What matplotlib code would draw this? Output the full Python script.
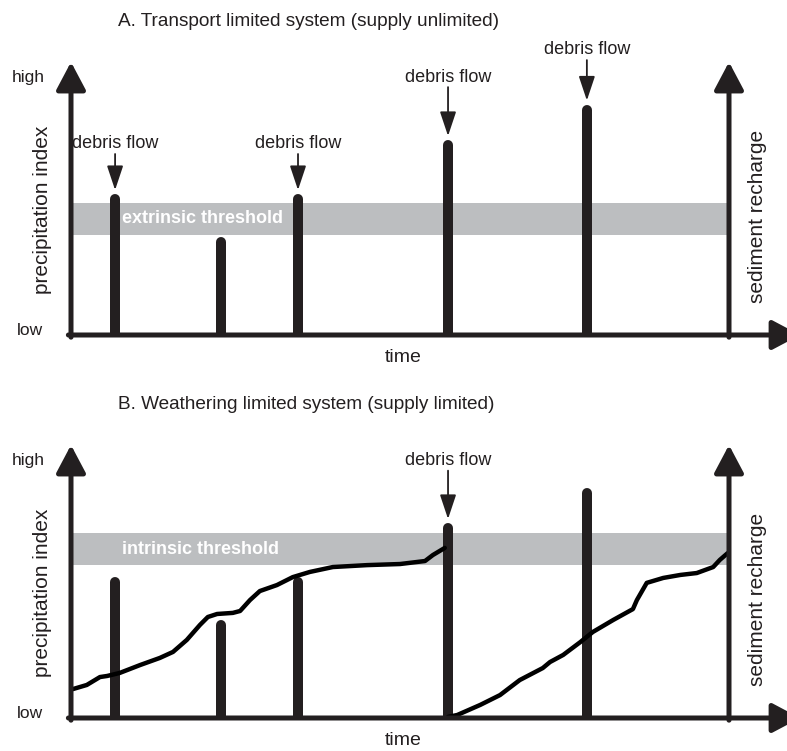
import matplotlib
matplotlib.use("Agg")
import matplotlib.pyplot as plt

plt.rcParams['font.family'] = ['Liberation Sans', 'DejaVu Sans']

INK = '#231f20'
GRAY = '#bcbec0'

# precipitation events (time, precipitation index), same in both panels
event_t = [6.7, 22.8, 34.5, 57.3, 78.4]
event_p = [49.8, 34.0, 49.8, 69.6, 82.6]

# thresholds (low, high)
extrinsic = (36.6, 48.4)
intrinsic = (56.0, 67.8)

# events that trigger debris flows
flows_a = [0, 2, 3, 4]
flows_b = [3]

# sediment recharge curve for panel B (two segments, reset after debris flow)
rech1_t = [0.3, 2.4, 4.4, 5.5, 7.4, 10.5, 13.5, 15.5, 17.6, 19.6, 20.8, 22.2,
           24.6, 25.7, 27.2, 28.7, 31.3, 33.7, 36.3, 39.8, 45.0, 50.0, 53.8,
           55.0, 56.8]
rech1_v = [10.6, 12.1, 15.0, 15.4, 16.5, 19.4, 22.0, 24.2, 28.6, 34.1, 37.0,
           38.1, 38.5, 39.2, 43.2, 46.5, 48.7, 51.6, 53.5, 55.3, 56.0, 56.4,
           57.5, 59.7, 62.3]
rech2_t = [57.3, 58.7, 62.2, 65.2, 68.2, 71.7, 72.8, 74.8, 77.4, 79.3, 82.4,
           85.4, 86.0, 87.5, 90.0, 92.6, 95.1, 97.6, 98.6, 99.8]
rech2_v = [0.4, 1.1, 4.8, 8.4, 13.9, 18.3, 20.5, 23.1, 27.8, 31.5, 35.9,
           39.9, 43.2, 49.5, 51.3, 52.4, 53.1, 55.3, 57.9, 60.4]

W, H = 787, 751
fig = plt.figure(figsize=(W / 100, H / 100), dpi=100)


def panel(bottom_px, title, band, band_label, flows, label_ys):
    ax = fig.add_axes([71 / W, 1 - bottom_px / H, 658 / W, 273 / H])
    ax.set_xlim(0, 100)
    ax.set_ylim(0, 100)
    ax.axis('off')

    ax.axhspan(band[0], band[1], xmin=0, xmax=1, color=GRAY, lw=0, zorder=1)
    ax.text(7.8, (band[0] + band[1]) / 2, band_label, color='white',
            fontsize=13, fontweight='bold', va='center', ha='left', zorder=2)

    ax.vlines(event_t, 0, event_p, color=INK, lw=7.2, capstyle='round', zorder=3)

    head = dict(arrowstyle='-|>,head_length=0.85,head_width=0.45',
                lw=3.6, color=INK, mutation_scale=20, shrinkA=0, shrinkB=0)
    ax.annotate('', xy=(0, 100), xytext=(0, -0.8), arrowprops=head,
                annotation_clip=False, zorder=4)
    ax.annotate('', xy=(100, 100), xytext=(100, -0.8), arrowprops=head,
                annotation_clip=False, zorder=4)
    ax.annotate('', xy=(110.8, 0), xytext=(-0.4, 0), arrowprops=head,
                annotation_clip=False, zorder=4)

    small = dict(arrowstyle='-|>,head_length=0.75,head_width=0.25',
                 lw=1.3, color=INK, mutation_scale=20, shrinkA=0, shrinkB=0)
    for i, ly in zip(flows, label_ys):
        ax.text(event_t[i], ly, 'debris flow', fontsize=13, ha='center',
                va='center', color=INK)
        ax.annotate('', xy=(event_t[i], event_p[i] + 3.3),
                    xytext=(event_t[i], ly - 3.7), arrowprops=small,
                    annotation_clip=False)

    ax.text(7.1, 115.0, title, fontsize=13.7, ha='left', va='center', color=INK)
    ax.text(-4.0, 94.3, 'high', fontsize=12.5, ha='right', va='center', color=INK)
    ax.text(-4.3, 1.8, 'low', fontsize=12.5, ha='right', va='center', color=INK)
    ax.text(-4.4, 46.0, 'precipitation index', fontsize=15, rotation=90,
            ha='center', va='center', color=INK)
    ax.text(104.3, 43.4, 'sediment recharge', fontsize=15, rotation=90,
            ha='center', va='center', color=INK)
    ax.text(50.5, -8.4, 'time', fontsize=14, ha='center', va='center', color=INK)
    return ax


ax_a = panel(335, 'A. Transport limited system (supply unlimited)',
             extrinsic, 'extrinsic threshold', flows_a, [70.0, 70.0, 94.5, 104.4])

ax_b = panel(718, 'B. Weathering limited system (supply limited)',
             intrinsic, 'intrinsic threshold', flows_b, [94.3])
ax_b.plot(rech1_t, rech1_v, color='black', lw=3.2, solid_capstyle='round', zorder=3.5)
ax_b.plot(rech2_t, rech2_v, color='black', lw=3.2, solid_capstyle='round', zorder=3.5)

fig.savefig('out.png', dpi=100, facecolor='white')
